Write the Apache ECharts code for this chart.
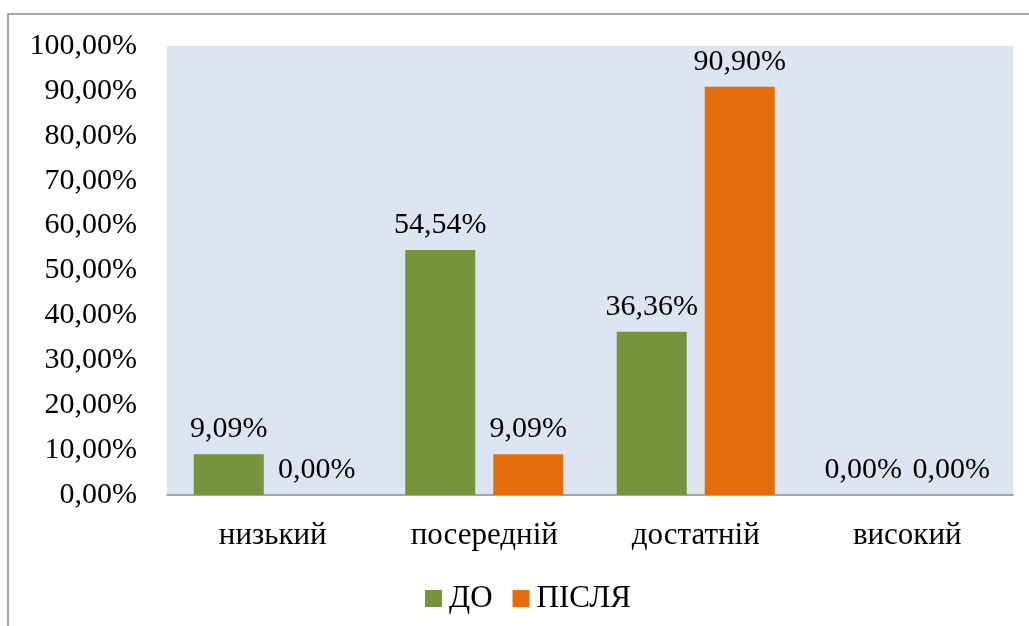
<!DOCTYPE html>
<html>
<head>
<meta charset="utf-8">
<script src="https://cdn.jsdelivr.net/npm/echarts@6/dist/echarts.min.js"></script>
<style>html,body{margin:0;padding:0;background:#fff}#c{width:1029px;height:626px}</style>
</head>
<body>
<div id="c"></div>
<script>
const categories = ['низький', 'посередній', 'достатній', 'високий'];
const seriesNames = ['ДО', 'ПІСЛЯ'];
const before = [9.09, 54.54, 36.36, 0];
const after = [0, 9.09, 90.90, 0];
const yTicks = [0, 10, 20, 30, 40, 50, 60, 70, 80, 90, 100];

const FONT = '"Liberation Serif", "Times New Roman", serif';
const fmt = v => Number(v).toFixed(2).replace('.', ',') + '%';

const chart = echarts.init(document.getElementById('c'));
const labelCfg = {
  show: true, position: 'top', distance: 10,
  fontFamily: FONT, fontSize: 30, color: '#000',
  formatter: p => fmt(p.value)
};
chart.setOption({
  animation: false,
  graphic: [{
    type: 'rect', z: -10,
    shape: { x: 8, y: 14, width: 1100, height: 700 },
    style: { fill: 'none', stroke: '#8a8a8a', lineWidth: 1.5 }
  }],
  grid: {
    left: 167, right: 16, top: 46, bottom: 131,
    show: true, backgroundColor: '#dce6f2', borderWidth: 0
  },
  legend: {
    data: seriesNames, bottom: 12, left: 425, padding: 0,
    itemWidth: 17, itemHeight: 17, itemGap: 20,
    icon: 'rect',
    textStyle: { fontFamily: FONT, fontSize: 31, color: '#000', padding: [0, 0, 0, 2] }
  },
  xAxis: {
    type: 'category', data: categories,
    axisLine: { lineStyle: { color: '#8c8c8c', width: 1.5 } },
    axisTick: { show: false },
    axisLabel: { fontFamily: FONT, fontSize: 31, color: '#000', margin: 25 },
    splitLine: { show: false }
  },
  yAxis: {
    type: 'value', min: yTicks[0], max: yTicks[yTicks.length - 1], interval: 10,
    axisLine: { show: false }, axisTick: { show: false },
    splitLine: { show: false },
    axisLabel: { fontFamily: FONT, fontSize: 30, color: '#000', margin: 30, formatter: v => fmt(v) }
  },
  series: [
    { name: seriesNames[0], type: 'bar', data: before, barWidth: 70, barGap: '25.7%',
      itemStyle: { color: '#77933c' }, label: labelCfg },
    { name: seriesNames[1], type: 'bar', data: after, barWidth: 70,
      itemStyle: { color: '#e46c0a' }, label: labelCfg }
  ]
});
</script>
</body>
</html>
